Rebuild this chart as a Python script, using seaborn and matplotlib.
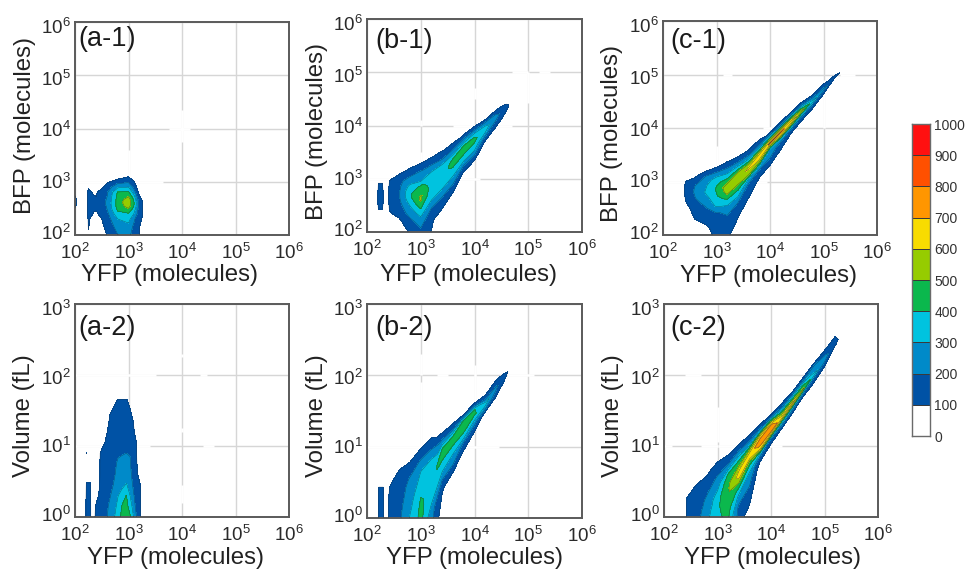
import numpy as np
import seaborn as sns
import matplotlib
matplotlib.use('Agg')
import matplotlib.pyplot as plt
from matplotlib.colors import ListedColormap
from matplotlib.transforms import ScaledTranslation

# density: each row is one YFP column (log10 molecules),
# sampled at centre + offset on the vertical axis (log10)
offsets = [-1.0, -0.7, -0.45, -0.3, -0.2, -0.12, -0.06, 0, 0.06, 0.12, 0.2, 0.3, 0.45, 0.7]
a2_offsets = [0, 0.15, 0.3, 0.45, 0.6, 0.75, 0.9, 1.05, 1.2, 1.35, 1.5, 1.65, 1.75, 1.9]

a1_yfp = [2.0, 2.06, 2.18, 2.25, 2.35, 2.4, 2.5, 2.6, 2.8, 3.0, 3.1, 3.2, 3.26, 3.3]
a1_centre = [2.6] * 14
a1_counts = [
    [0, 0, 0, 0, 0, 60, 130, 190, 190, 120, 0, 0, 0, 0],
    [0] * 14,
    [0] * 14,
    [60, 80, 105, 110, 125, 135, 140, 140, 140, 135, 120, 90, 0, 0],
    [0, 0, 40, 70, 95, 105, 110, 110, 110, 105, 90, 50, 0, 0],
    [0, 0, 20, 60, 90, 105, 110, 110, 110, 100, 90, 60, 0, 0],
    [0, 10, 80, 100, 125, 150, 155, 160, 160, 160, 150, 80, 0, 0],
    [60, 90, 125, 150, 175, 200, 210, 220, 210, 200, 190, 140, 60, 0],
    [110, 170, 240, 300, 370, 420, 440, 440, 440, 430, 410, 280, 100, 0],
    [200, 210, 260, 340, 390, 480, 540, 570, 560, 500, 420, 300, 120, 0],
    [120, 140, 180, 220, 300, 350, 400, 410, 390, 340, 260, 170, 80, 0],
    [90, 100, 105, 125, 140, 155, 165, 165, 150, 110, 70, 30, 0, 0],
    [0, 0, 60, 90, 105, 110, 110, 105, 90, 70, 30, 0, 0, 0],
    [0] * 14,
]

b1_yfp = [2.18, 2.21, 2.29, 2.33, 2.42, 2.6, 2.8, 3.0, 3.2, 3.4, 3.6, 3.8, 4.0, 4.2, 4.4, 4.55, 4.63, 4.68]
b1_centre = [2.65, 2.65, 2.65, 2.65, 2.65, 2.65, 2.65, 2.65, 2.9, 3.05, 3.3, 3.55, 3.72, 3.93, 4.15, 4.3, 4.37, 4.4]
b1_counts = [
    [0] * 14,
    [0, 0, 30, 80, 105, 125, 135, 140, 135, 125, 110, 95, 30, 0],
    [0, 0, 30, 80, 105, 125, 135, 140, 135, 125, 110, 95, 30, 0],
    [0] * 14,
    [0, 20, 60, 90, 110, 115, 120, 120, 120, 120, 115, 105, 60, 0],
    [0, 0, 80, 130, 150, 170, 185, 190, 190, 190, 180, 170, 90, 0],
    [90, 100, 170, 240, 280, 320, 350, 380, 390, 370, 330, 260, 160, 0],
    [120, 150, 250, 340, 410, 470, 510, 520, 480, 450, 420, 300, 230, 60],
    [90, 110, 200, 300, 330, 350, 350, 350, 350, 340, 320, 250, 120, 10],
    [10, 60, 170, 250, 330, 350, 360, 360, 360, 350, 320, 210, 110, 0],
    [0, 20, 160, 280, 320, 380, 410, 430, 420, 340, 240, 160, 30, 0],
    [0, 0, 70, 200, 320, 380, 420, 440, 420, 310, 200, 70, 0, 0],
    [0, 0, 30, 170, 290, 350, 390, 420, 400, 320, 190, 50, 0, 0],
    [0, 0, 0, 30, 110, 210, 300, 340, 300, 210, 60, 0, 0, 0],
    [0, 0, 0, 0, 80, 140, 190, 240, 200, 120, 20, 0, 0, 0],
    [0, 0, 0, 0, 40, 90, 120, 150, 130, 60, 0, 0, 0, 0],
    [0, 0, 0, 0, 0, 0, 80, 110, 80, 0, 0, 0, 0, 0],
    [0] * 14,
]

c1_yfp = [2.3, 2.42, 2.6, 2.8, 3.0, 3.2, 3.4, 3.6, 3.8, 4.0, 4.2, 4.4, 4.6, 4.8, 5.0, 5.2, 5.3, 5.35]
c1_centre = [2.8, 2.8, 2.8, 2.8, 2.85, 2.9, 3.05, 3.25, 3.48, 3.72, 3.92, 4.12, 4.33, 4.5, 4.72, 4.95, 5.03, 5.08]
c1_counts = [
    [0] * 14,
    [0, 0, 0, 60, 90, 105, 110, 115, 115, 110, 100, 40, 0, 0],
    [0, 30, 120, 150, 170, 195, 205, 215, 210, 200, 150, 80, 0, 0],
    [0, 70, 150, 190, 230, 260, 290, 310, 300, 290, 260, 200, 40, 0],
    [110, 150, 190, 320, 360, 390, 400, 410, 400, 380, 340, 220, 60, 0],
    [100, 160, 220, 340, 430, 520, 550, 560, 500, 430, 350, 240, 110, 0],
    [20, 110, 200, 330, 410, 490, 530, 560, 540, 500, 350, 210, 60, 0],
    [0, 30, 150, 190, 300, 510, 570, 620, 540, 400, 240, 130, 0, 0],
    [0, 0, 80, 150, 280, 500, 620, 650, 530, 350, 200, 100, 0, 0],
    [0, 0, 70, 190, 240, 300, 480, 710, 500, 300, 70, 0, 0, 0],
    [0, 0, 0, 120, 170, 300, 580, 720, 500, 220, 80, 0, 0, 0],
    [0, 0, 0, 0, 110, 220, 450, 660, 480, 230, 70, 0, 0, 0],
    [0, 0, 0, 0, 80, 170, 340, 550, 340, 170, 20, 0, 0, 0],
    [0, 0, 0, 0, 30, 110, 190, 340, 210, 100, 0, 0, 0, 0],
    [0, 0, 0, 0, 0, 60, 130, 240, 130, 90, 0, 0, 0, 0],
    [0, 0, 0, 0, 0, 0, 50, 130, 50, 0, 0, 0, 0, 0],
    [0, 0, 0, 0, 0, 0, 0, 105, 0, 0, 0, 0, 0, 0],
    [0] * 14,
]

a2_yfp = [2.19, 2.21, 2.29, 2.31, 2.38, 2.47, 2.56, 2.65, 2.8, 2.87, 2.96, 3.03, 3.1, 3.15, 3.22, 3.27]
a2_centre = [0] * 16
a2_counts = [
    [0] * 14,
    [140, 135, 125, 105, 80, 70, 102, 0, 0, 0, 0, 0, 0, 0],
    [140, 135, 125, 105, 80, 60, 70, 0, 0, 0, 0, 0, 0, 0],
    [0] * 14,
    [110, 100, 50, 0, 0, 0, 0, 0, 0, 0, 0, 0, 0, 0],
    [130, 130, 125, 110, 105, 105, 100, 20, 0, 0, 0, 0, 0, 0],
    [160, 160, 150, 140, 110, 100, 105, 100, 70, 20, 0, 0, 0, 0],
    [240, 220, 190, 170, 160, 150, 150, 140, 130, 115, 90, 10, 0, 0],
    [340, 320, 295, 240, 220, 210, 190, 160, 140, 130, 125, 105, 30, 0],
    [420, 400, 340, 270, 230, 215, 195, 170, 145, 130, 122, 105, 30, 0],
    [470, 430, 405, 310, 250, 220, 200, 180, 150, 130, 120, 105, 30, 0],
    [410, 360, 300, 260, 225, 210, 195, 160, 135, 120, 105, 80, 20, 0],
    [290, 240, 205, 170, 150, 130, 125, 115, 105, 95, 50, 0, 0, 0],
    [200, 165, 150, 130, 120, 110, 105, 100, 60, 20, 0, 0, 0, 0],
    [115, 110, 105, 100, 60, 20, 0, 0, 0, 0, 0, 0, 0, 0],
    [0] * 14,
]

b2_yfp = [2.2, 2.22, 2.3, 2.33, 2.42, 2.6, 2.8, 3.0, 3.2, 3.4, 3.6, 3.8, 4.0, 4.2, 4.4, 4.55, 4.62, 4.66]
b2_centre = [0.2, 0.2, 0.2, 0.2, 0.2, 0.2, 0.25, 0.35, 0.5, 0.85, 1.05, 1.25, 1.45, 1.6, 1.82, 1.98, 2.05, 2.08]
b2_counts = [
    [0] * 14,
    [130, 130, 130, 130, 130, 130, 130, 130, 125, 115, 105, 90, 0, 0],
    [130, 130, 130, 130, 130, 130, 130, 130, 125, 115, 105, 90, 0, 0],
    [0] * 14,
    [125, 125, 125, 125, 125, 125, 125, 125, 120, 115, 105, 90, 0, 0],
    [180, 180, 180, 180, 180, 175, 170, 165, 160, 155, 150, 130, 110, 0],
    [310, 310, 310, 310, 300, 280, 270, 260, 250, 240, 230, 210, 150, 0],
    [430, 430, 430, 430, 420, 410, 400, 380, 360, 340, 320, 300, 210, 50],
    [220, 220, 230, 300, 350, 370, 380, 380, 380, 370, 350, 320, 210, 50],
    [0, 50, 110, 210, 300, 350, 390, 420, 420, 400, 260, 140, 0, 0],
    [0, 0, 60, 200, 270, 320, 370, 430, 450, 360, 180, 70, 0, 0],
    [0, 0, 0, 100, 180, 320, 390, 450, 470, 400, 100, 0, 0, 0],
    [0, 0, 0, 40, 140, 240, 330, 410, 410, 200, 0, 0, 0, 0],
    [0, 0, 0, 0, 0, 70, 250, 350, 200, 100, 0, 0, 0, 0],
    [0, 0, 0, 0, 0, 100, 170, 230, 140, 90, 0, 0, 0, 0],
    [0, 0, 0, 0, 0, 0, 100, 120, 90, 0, 0, 0, 0, 0],
    [0, 0, 0, 0, 0, 0, 0, 105, 0, 0, 0, 0, 0, 0],
    [0] * 14,
]

c2_yfp = [2.35, 2.43, 2.6, 2.8, 3.0, 3.2, 3.4, 3.6, 3.8, 4.0, 4.2, 4.4, 4.6, 4.8, 5.0, 5.2, 5.25, 5.3]
c2_centre = [0.15, 0.15, 0.2, 0.2, 0.25, 0.4, 0.6, 0.82, 1.02, 1.22, 1.4, 1.6, 1.8, 2.0, 2.2, 2.48, 2.5, 2.53]
c2_counts = [
    [0] * 14,
    [110, 110, 110, 110, 110, 110, 110, 110, 105, 100, 70, 0, 0, 0],
    [150, 150, 150, 150, 150, 150, 150, 150, 140, 130, 120, 80, 0, 0],
    [280, 280, 280, 280, 270, 250, 230, 220, 210, 195, 160, 130, 70, 0],
    [380, 380, 380, 380, 380, 380, 370, 360, 330, 300, 260, 215, 140, 0],
    [400, 400, 400, 430, 450, 480, 490, 490, 480, 460, 410, 235, 110, 0],
    [120, 120, 180, 280, 380, 500, 600, 640, 590, 500, 390, 240, 70, 0],
    [0, 80, 170, 240, 290, 360, 430, 600, 650, 530, 270, 130, 0, 0],
    [0, 0, 0, 40, 130, 300, 600, 730, 760, 620, 250, 80, 0, 0],
    [0, 0, 0, 0, 90, 170, 520, 770, 760, 500, 120, 0, 0, 0],
    [0, 0, 0, 0, 0, 170, 370, 650, 470, 240, 100, 0, 0, 0],
    [0, 0, 0, 0, 0, 130, 310, 640, 390, 210, 0, 0, 0, 0],
    [0, 0, 0, 0, 0, 70, 200, 520, 380, 200, 0, 0, 0, 0],
    [0, 0, 0, 0, 0, 90, 150, 340, 250, 210, 0, 0, 0, 0],
    [0, 0, 0, 0, 0, 50, 120, 230, 210, 140, 0, 0, 0, 0],
    [0, 0, 0, 0, 0, 0, 110, 150, 100, 0, 0, 0, 0, 0],
    [0, 0, 0, 0, 0, 0, 40, 110, 40, 0, 0, 0, 0, 0],
    [0] * 14,
]

levels = [0, 100, 200, 300, 400, 500, 600, 700, 800, 900, 1000]
level_colors = ['#ffffff', '#0052a5', '#008ac9', '#00c3df', '#0bb84d',
                '#96cc00', '#f8dc00', '#ff9600', '#ff5000', '#ff1010']
x_ticks = [2, 3, 4, 5, 6]
bfp_ticks = [2, 3, 4, 5, 6]
vol_ticks = [0, 1, 2, 3]

# the grid lines of the original are broken in places
a1_gaps = [('h', 3, 2, 3.65), ('h', 4, 3.75, 4.15), ('v', 4, 3.75, 4.35), ('v', 3, 3.04, 3.6)]
b1_gaps = [('h', 3, 2, 4.1), ('h', 4, 3.6, 4.7), ('h', 5, 4.7, 5.0), ('h', 5, 5.2, 5.4),
           ('v', 5, 4.42, 5.0), ('v', 4, 4.5, 4.7), ('v', 3, 3.0, 3.5), ('v', 3, 4.0, 4.1)]
c1_gaps = [('h', 3, 2, 3.94), ('h', 4, 3.87, 4.03), ('h', 5, 3.13, 3.29), ('h', 5, 5.3, 5.58),
           ('v', 3, 3.1, 3.67), ('v', 5, 4.0, 4.9)]
a2_gaps = [('h', 2, 2, 3.52), ('h', 2, 4.33, 4.46), ('h', 1, 2, 3.41), ('h', 1, 4.4, 4.6),
           ('v', 4, 2.25, 2.29), ('v', 4, 1.2, 1.25), ('v', 4, 0.2, 0.45)]
b2_gaps = [('h', 1, 2, 4.46), ('h', 2, 3.3, 3.5), ('h', 2, 4.6, 5.1),
           ('v', 3, 2.0, 2.3), ('v', 3, 1.0, 1.9), ('v', 4, 1.5, 2.15)]
c2_gaps = [('h', 1, 2, 2.15), ('h', 1, 2.7, 3.0), ('h', 1, 3.0, 4.2), ('h', 2, 2.4, 2.7),
           ('v', 3, 2.55, 2.75), ('v', 3, 1.05, 1.55)]

sns.set_theme(style='white')
plt.rcParams['font.family'] = ['Liberation Sans', 'DejaVu Sans']
plt.rcParams['mathtext.fontset'] = 'custom'
plt.rcParams['mathtext.rm'] = 'Liberation Sans'
plt.rcParams['mathtext.default'] = 'regular'

W, H = 968, 571
fig = plt.figure(figsize=(W / 100, H / 100), dpi=100)
palette = sns.color_palette(level_colors)


def add_axes_px(left, top, right, bottom):
    return fig.add_axes([left / W, 1 - bottom / H, (right - left) / W, (bottom - top) / H])


def panel(box, yfp, centre, counts, offs, gaps, name, name_at, ylabel, y_ticks, xlabel_at, ylabel_at):
    ax = add_axes_px(*box)
    yfp = np.array(yfp)
    centre = np.array(centre)
    X = np.tile(yfp[:, None], (1, len(offs)))
    Y = centre[:, None] + np.array(offs)
    Z = np.array(counts, dtype=float)
    ax.contourf(X, Y, Z, levels=levels[1:], colors=level_colors[1:], zorder=2)
    ax.contour(X, Y, Z, levels=levels[1:], colors='#17304a', linewidths=0.35, alpha=0.7, zorder=3)
    ax.set_xlim(2, 6)
    ax.set_ylim(y_ticks[0], y_ticks[-1])
    ax.set_xticks(x_ticks)
    ax.set_yticks(y_ticks)
    ax.set_xticklabels([f'$10^{{{t}}}$' for t in x_ticks])
    ax.set_yticklabels([f'$10^{{{t}}}$' for t in y_ticks])
    ax.tick_params(length=0, labelsize=13.5, labelcolor='#2a2a2a')
    ax.tick_params(axis='x', pad=6)
    ax.tick_params(axis='y', pad=3)
    # y tick labels are squeezed inward: bottom one up, top one down
    shifts = np.linspace(3, -4, len(y_ticks))
    for lab, px in zip(ax.get_yticklabels(), shifts):
        lab.set_transform(lab.get_transform() + ScaledTranslation(0, px / 100, fig.dpi_scale_trans))
    ax.grid(True, color='#d6d6d6', linewidth=1.0)
    ax.set_axisbelow(True)
    for kind, at, start, stop in gaps:
        if kind == 'h':
            ax.hlines(at, start, stop, color='white', linewidth=1.8, zorder=1)
        else:
            ax.vlines(at, start, stop, color='white', linewidth=1.8, zorder=1)
    for s in ax.spines.values():
        s.set_color('#5a5a5a')
        s.set_linewidth(1.4)
    left, top, right, bottom = box
    ax.set_xlabel('YFP (molecules)', fontsize=17.3, color='#222222', va='center')
    ax.set_ylabel(ylabel, fontsize=17.3, color='#222222', va='center')
    ax.xaxis.set_label_coords((xlabel_at[0] - left) / (right - left), (bottom - xlabel_at[1]) / (bottom - top))
    ax.yaxis.set_label_coords((ylabel_at[0] - left) / (right - left), (bottom - ylabel_at[1]) / (bottom - top))
    fig.text(name_at[0] / W, 1 - name_at[1] / H, name, fontsize=19.5, color='#1a1a1a', va='center', ha='left')
    return ax


panel((75, 22, 289, 235), a1_yfp, a1_centre, a1_counts, offsets, a1_gaps, '(a-1)', (78, 39),
      'BFP (molecules)', bfp_ticks, (169, 275), (25, 125))
panel((367, 19, 582, 232), b1_yfp, b1_centre, b1_counts, offsets, b1_gaps, '(b-1)', (375, 41),
      'BFP (molecules)', bfp_ticks, (469, 275), (317, 132))
panel((663, 21, 877, 235), c1_yfp, c1_centre, c1_counts, offsets, c1_gaps, '(c-1)', (670, 41),
      'BFP (molecules)', bfp_ticks, (768, 276), (612, 133))
panel((75, 304, 289, 517), a2_yfp, a2_centre, a2_counts, a2_offsets, a2_gaps, '(a-2)', (78, 328),
      'Volume (fL)', vol_ticks, (175, 558), (24, 416))
panel((367, 304, 582, 518), b2_yfp, b2_centre, b2_counts, offsets, b2_gaps, '(b-2)', (375, 328),
      'Volume (fL)', vol_ticks, (475, 558), (317, 416))
panel((664, 304, 878, 517), c2_yfp, c2_centre, c2_counts, offsets, c2_gaps, '(c-2)', (670, 328),
      'Volume (fL)', vol_ticks, (773, 558), (613, 416))

# colour key as a one-column heatmap
cax = add_axes_px(912, 124, 930, 436)
cells = np.array(levels[:-1])[::-1].reshape(-1, 1) + 50
sns.heatmap(cells, ax=cax, cmap=ListedColormap(palette), vmin=0, vmax=1000, cbar=False,
            linewidths=0.6, linecolor='#3a3a3a', xticklabels=False)
cax.set_yticks(np.arange(len(levels)))
cax.set_yticklabels([str(v) for v in levels[::-1]], rotation=0, fontsize=10, color='#333333')
cax.yaxis.tick_right()
cax.tick_params(length=0, pad=3)
for s in cax.spines.values():
    s.set_visible(True)
    s.set_color('#6a6a6a')
    s.set_linewidth(1.0)

fig.savefig('out.png', dpi=100)
